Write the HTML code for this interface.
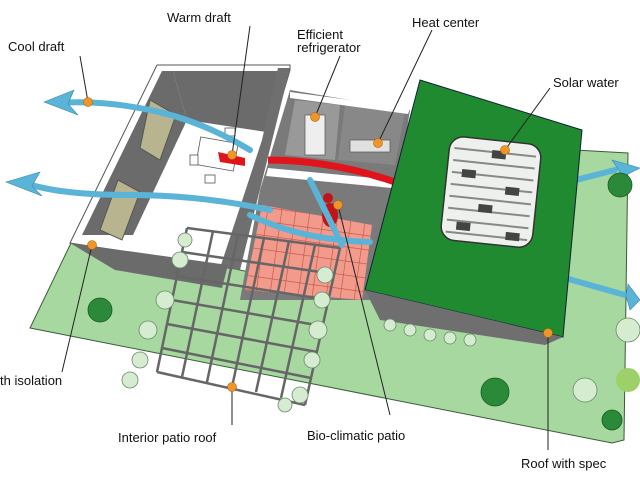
<!DOCTYPE html>
<html><head><meta charset="utf-8"><style>
html,body{margin:0;padding:0;background:#fff;width:640px;height:480px;overflow:hidden}
svg{display:block}
text{font-family:"Liberation Sans",Arial,sans-serif;font-size:13px;fill:#111}
</style></head><body>
<svg width="640" height="480" viewBox="0 0 640 480" xmlns="http://www.w3.org/2000/svg">
<defs>
<pattern id="tile" width="14" height="14" patternUnits="userSpaceOnUse" patternTransform="rotate(8)">
<rect width="14" height="14" fill="#f29a8c"/><path d="M0 0H14M0 0V14" stroke="#c0503f" stroke-width="1.2"/>
</pattern>
</defs>
<!-- ground -->
<polygon points="71,243 30,328 612,443 624,440 628,153 575,150 380,300 100,240" fill="#a6d8a0" stroke="#3c5a3c" stroke-width="1"/>
<!-- middle section -->
<polygon points="290,90 410,110 380,300 240,300 260,190" fill="#7a7a7a"/>
<polygon points="295,100 340,105 335,160 285,155" fill="#999"/>
<polygon points="345,105 405,112 395,165 338,160" fill="#888"/>
<polygon points="290,92 410,108 408,114 290,98" fill="#fff"/>
<polygon points="268,168 395,180 392,188 266,176" fill="#fff"/>
<rect x="305" y="115" width="20" height="40" fill="#eee" stroke="#555" stroke-width="0.7"/>
<rect x="350" y="140" width="40" height="12" fill="#e0e0e0" stroke="#555" stroke-width="0.7"/>
<polygon points="262,205 372,225 362,300 245,290" fill="url(#tile)"/>
<!-- left building -->
<polygon points="157,65 290,65 290,70 232,268 70,243" fill="#fff" stroke="#555" stroke-width="1"/>
<polygon points="162,71 173,71 187,120 133,235 82,235" fill="#6b6b6b"/>
<polygon points="173,71 282,71 273,133 187,120" fill="#6b6b6b"/>
<polygon points="278,68 290,68 240,270 220,268 262,140" fill="#6f6f6f"/>
<polygon points="70,243 228,265 222,288 115,270" fill="#6b6b6b"/>
<polygon points="150,100 176,115 160,160 140,148" fill="#b7b48f" stroke="#555"/>
<polygon points="118,180 140,192 122,240 100,230" fill="#b7b48f" stroke="#555"/>
<!-- table/chairs -->
<g fill="#fff" stroke="#555" stroke-width="0.8">
<rect x="198" y="140" width="38" height="28" transform="rotate(10 217 154)"/>
<rect x="225" y="128" width="10" height="8"/><rect x="205" y="175" width="10" height="8"/><rect x="190" y="155" width="8" height="10"/>
</g>
<!-- red figure -->
<ellipse cx="330" cy="215" rx="8" ry="12" fill="#c0141a"/>
<circle cx="328" cy="198" r="5" fill="#c0141a"/>
<!-- red warm draft -->
<path d="M268 160 Q330 160 395 182" stroke="#e0141a" stroke-width="7" fill="none"/>
<path d="M218 152 L245 158 L245 166 L220 162Z" fill="#e0141a"/>
<!-- blue drafts -->
<g stroke="#5ab4d8" stroke-width="6" fill="none" stroke-linecap="round">
<path d="M250 150 Q200 120 150 110 T62 103"/>
<path d="M270 210 Q200 195 130 195 T25 183"/>
<path d="M250 215 Q300 240 370 242"/>
<path d="M310 180 L342 245"/>
<path d="M576 180 L615 170"/>
<path d="M565 278 L625 295"/>
</g>
<g fill="#5ab4d8" stroke="#3a8ab0" stroke-width="0.6">
<polygon points="44,102 74,90 68,104 78,115"/>
<polygon points="6,182 40,172 32,186 42,196"/>
<polygon points="640,168 612,160 620,172 612,182"/>
<polygon points="640,300 628,284 626,296 630,310"/>
</g>
<!-- green roof -->
<polygon points="365,290 420,80 582,130 563,337" fill="#1f8a2f" stroke="#123" stroke-width="1"/>
<polygon points="365,290 563,337 545,345 380,320" fill="#6f6f6f"/>
<!-- solar panel -->
<g transform="rotate(6 490 192)">
<rect x="445" y="140" width="92" height="104" rx="14" fill="#eef0ee" stroke="#333" stroke-width="1.5"/>
<g stroke="#888" stroke-width="2">
<line x1="450" y1="152" x2="532" y2="152"/><line x1="450" y1="164" x2="532" y2="164"/><line x1="450" y1="176" x2="532" y2="176"/>
<line x1="450" y1="188" x2="532" y2="188"/><line x1="450" y1="200" x2="532" y2="200"/><line x1="450" y1="212" x2="532" y2="212"/><line x1="450" y1="224" x2="532" y2="224"/><line x1="450" y1="236" x2="532" y2="236"/>
</g>
<g fill="#444"><rect x="488" y="150" width="14" height="8"/><rect x="460" y="172" width="14" height="8"/><rect x="505" y="185" width="14" height="8"/><rect x="480" y="205" width="14" height="8"/><rect x="460" y="225" width="14" height="8"/><rect x="510" y="230" width="14" height="8"/></g>
</g>
<!-- pergola grid -->
<g stroke="#666" stroke-width="2.5" fill="none">
<line x1="187" y1="228" x2="157" y2="372"/><line x1="213" y1="231" x2="182" y2="377"/><line x1="238" y1="235" x2="207" y2="382"/><line x1="264" y1="238" x2="232" y2="387"/><line x1="289" y1="241" x2="256" y2="392"/><line x1="315" y1="245" x2="281" y2="398"/><line x1="340" y1="248" x2="305" y2="405"/>
<line x1="187" y1="228" x2="340" y2="248"/><line x1="182" y1="252" x2="334" y2="274"/><line x1="177" y1="276" x2="328" y2="300"/><line x1="172" y1="300" x2="322" y2="326"/><line x1="167" y1="324" x2="317" y2="352"/><line x1="162" y1="348" x2="311" y2="378"/><line x1="157" y1="372" x2="305" y2="405"/>
</g>
<!-- plants -->
<g fill="#d6ecd0" stroke="#6a8a6a" stroke-width="0.8">
<circle cx="180" cy="260" r="8"/><circle cx="165" cy="300" r="9"/><circle cx="148" cy="330" r="9"/><circle cx="140" cy="360" r="8"/><circle cx="130" cy="380" r="8"/>
<circle cx="325" cy="275" r="8"/><circle cx="322" cy="300" r="8"/><circle cx="318" cy="330" r="9"/><circle cx="312" cy="360" r="8"/><circle cx="300" cy="395" r="8"/><circle cx="285" cy="405" r="7"/>
<circle cx="390" cy="325" r="6"/><circle cx="410" cy="330" r="6"/><circle cx="430" cy="335" r="6"/><circle cx="450" cy="338" r="6"/><circle cx="470" cy="340" r="6"/>
<circle cx="585" cy="390" r="12"/><circle cx="628" cy="330" r="12"/><circle cx="185" cy="240" r="7"/>
</g>
<g fill="#2a8a3a" stroke="#1a5a22" stroke-width="0.8">
<circle cx="100" cy="310" r="12"/><circle cx="495" cy="392" r="14"/><circle cx="620" cy="185" r="12"/><circle cx="612" cy="420" r="10"/>
</g>
<circle cx="628" cy="380" r="12" fill="#9ed06a"/>
<!-- leaders -->
<g stroke="#222" stroke-width="1" fill="none">
<line x1="88" y1="102" x2="80" y2="56"/><line x1="232" y1="155" x2="250" y2="26"/>
<line x1="315" y1="117" x2="340" y2="56"/><line x1="378" y1="143" x2="432" y2="30"/>
<line x1="505" y1="150" x2="550" y2="88"/><line x1="92" y1="245" x2="62" y2="372"/>
<line x1="232" y1="387" x2="232" y2="425"/><line x1="338" y1="205" x2="390" y2="415"/>
<line x1="548" y1="333" x2="548" y2="450"/>
</g>
<g fill="#f0952a" stroke="#b0600a" stroke-width="0.6">
<circle cx="88" cy="102" r="4.5"/><circle cx="232" cy="155" r="4.5"/><circle cx="315" cy="117" r="4.5"/><circle cx="378" cy="143" r="4.5"/><circle cx="505" cy="150" r="4.5"/><circle cx="92" cy="245" r="4.5"/><circle cx="232" cy="387" r="4.5"/><circle cx="338" cy="205" r="4.5"/><circle cx="548" cy="333" r="4.5"/>
</g>
<!-- labels -->
<text x="8" y="51">Cool draft</text>
<text x="167" y="22">Warm draft</text>
<text x="297" y="39">Efficient</text>
<text x="297" y="52">refrigerator</text>
<text x="412" y="27">Heat center</text>
<text x="553" y="87">Solar water</text>
<text x="0" y="385">th isolation</text>
<text x="118" y="442">Interior patio roof</text>
<text x="307" y="440">Bio-climatic patio</text>
<text x="521" y="468">Roof with spec</text>
</svg>
</body></html>
